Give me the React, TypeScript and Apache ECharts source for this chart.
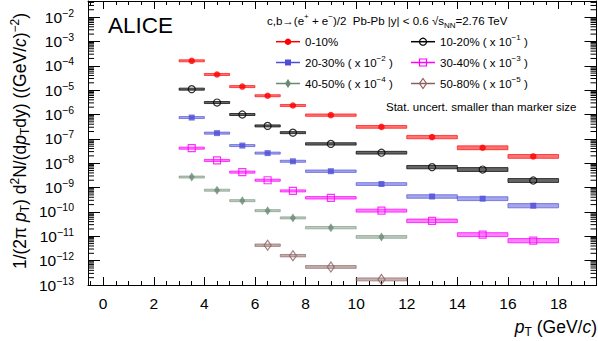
import React, { useEffect, useRef } from "react";
import * as echarts from "echarts";

// ---------- data ----------
const binLow = [3, 4, 5, 6, 7, 8, 10, 12, 14, 16];
const binHigh = [4, 5, 6, 7, 8, 10, 12, 14, 16, 18];
const binCenter = [3.5, 4.5, 5.5, 6.5, 7.5, 9, 11, 13, 15, 17];

const yield0to10 = [1.6e-4, 4.4e-5, 1.4e-5, 5.9e-6, 2.35e-6, 9.4e-7, 3.1e-7, 1.18e-7, 4.3e-8, 1.9e-8];
const yield10to20 = [1.1e-5, 3.1e-6, 1.0e-6, 3.4e-7, 1.8e-7, 6.2e-8, 2.7e-8, 6.9e-9, 5.5e-9, 1.95e-9];
const yield20to30 = [7.5e-7, 1.72e-7, 5.3e-8, 2.6e-8, 1.2e-8, 4.7e-9, 1.4e-9, 4.3e-10, 3.5e-10, 1.8e-10];
const yield30to40 = [4.15e-8, 1.3e-8, 4.3e-9, 2.0e-9, 7.3e-10, 3.8e-10, 1.13e-10, 4.3e-11, 1.17e-11, 6.6e-12];
const yield40to50 = [2.7e-9, 7.8e-10, 2.9e-10, 1.13e-10, 5.7e-11, 2.26e-11, 9.4e-12, null, null, null];
const yield50to80 = [null, null, null, 4.3e-12, 1.6e-12, 5.5e-13, 1.7e-13, null, null, null];

// relative systematic uncertainties (box half-heights)
const sys0to10 = [0.1, 0.1, 0.1, 0.1, 0.1, 0.12, 0.14, 0.17, 0.2, 0.2];
const sys10to20 = [0.1, 0.1, 0.1, 0.1, 0.1, 0.12, 0.14, 0.17, 0.2, 0.2];
const sys20to30 = [0.1, 0.1, 0.1, 0.1, 0.1, 0.12, 0.14, 0.18, 0.2, 0.22];
const sys30to40 = [0.1, 0.1, 0.1, 0.1, 0.1, 0.12, 0.15, 0.18, 0.2, 0.22];
const sys40to50 = [0.1, 0.1, 0.1, 0.1, 0.1, 0.12, 0.14, null, null, null];
const sys50to80 = [null, null, null, 0.12, 0.12, 0.14, 0.15, null, null, null];

const classNames = ["0-10%", "10-20%", "20-30%", "30-40%", "40-50%", "50-80%"];
const scaleExponents = ["", "−1", "−2", "−3", "−4", "−5"];

const xTickLabels = [0, 2, 4, 6, 8, 10, 12, 14, 16, 18];
const minorMultipliers = [2, 3, 4, 5, 6, 7, 8, 9];
const decadeExponents = [-13, -12, -11, -10, -9, -8, -7, -6, -5, -4, -3, -2];

// ---------- layout / style ----------
const FONT = '"Liberation Sans", Arial, Helvetica, sans-serif';
const X_MIN = -0.6;
const X_MAX = 19.5;
const Y_MIN = 1e-13;
const Y_MAX = Math.pow(10, -1.34);

type Style = {
  color: string;
  symbol: string;
  size: number | number[];
  hollow: boolean;
  boxFill: string;
  boxStroke: string;
};

const styles: Style[] = [
  { color: "#ff0000", symbol: "circle", size: 6.5, hollow: false, boxFill: "rgba(255,0,0,0.55)", boxStroke: "rgba(255,0,0,0.65)" },
  { color: "#000000", symbol: "circle", size: 7, hollow: true, boxFill: "rgba(0,0,0,0.6)", boxStroke: "rgba(0,0,0,0.7)" },
  { color: "#4d4dd8", symbol: "rect", size: 6, hollow: false, boxFill: "rgba(77,77,216,0.5)", boxStroke: "rgba(77,77,216,0.65)" },
  { color: "#ff00ff", symbol: "rect", size: 7, hollow: true, boxFill: "rgba(255,0,255,0.5)", boxStroke: "rgba(255,0,255,0.75)" },
  { color: "#6a8a72", symbol: "diamond", size: [6, 9], hollow: false, boxFill: "rgba(106,138,114,0.45)", boxStroke: "rgba(106,138,114,0.55)" },
  { color: "#8c5f5f", symbol: "diamond", size: [7, 10], hollow: true, boxFill: "rgba(140,95,95,0.5)", boxStroke: "rgba(140,95,95,0.65)" },
];

const yields = [yield0to10, yield10to20, yield20to30, yield30to40, yield40to50, yield50to80];
const sysList = [sys0to10, sys10to20, sys20to30, sys30to40, sys40to50, sys50to80];

function buildSeries() {
  const series: any[] = [];
  yields.forEach((vals, k) => {
    const st = styles[k];
    const sys = sysList[k];
    const boxData: number[][] = [];
    const pts: number[][] = [];
    vals.forEach((v, i) => {
      if (v == null) return;
      const s = sys[i] as number;
      boxData.push([binLow[i], binHigh[i], v / (1 + s), v * (1 + s)]);
      pts.push([binCenter[i], v]);
    });
    series.push({
      type: "custom",
      name: classNames[k] + "-sys",
      xAxisIndex: 0,
      yAxisIndex: 0,
      silent: true,
      z: 2,
      data: boxData,
      encode: { x: [0, 1], y: [2, 3] },
      renderItem: (_p: any, api: any) => {
        const a = api.coord([api.value(0), api.value(3)]);
        const b = api.coord([api.value(1), api.value(2)]);
        return {
          type: "rect",
          shape: { x: a[0], y: a[1], width: b[0] - a[0], height: b[1] - a[1] },
          style: { fill: st.boxFill, stroke: st.boxStroke, lineWidth: 1 },
        };
      },
    });
    series.push({
      type: "scatter",
      name: classNames[k],
      xAxisIndex: 0,
      yAxisIndex: 0,
      z: 3,
      symbol: st.symbol,
      symbolSize: st.size,
      data: pts,
      itemStyle: st.hollow
        ? { color: "rgba(255,255,255,0)", borderColor: st.color, borderWidth: 1.2 }
        : { color: st.color, borderWidth: 0 },
    });
  });

  // log minor ticks on left and right frame
  const minorVals: number[][] = [];
  decadeExponents.forEach((e) => {
    minorMultipliers.forEach((m) => {
      const v = m * Math.pow(10, e);
      if (v < Y_MAX && v > Y_MIN) minorVals.push([X_MIN, v]);
    });
  });
  series.push({
    type: "custom",
    silent: true,
    z: 5,
    xAxisIndex: 0,
    yAxisIndex: 0,
    data: minorVals,
    encode: { x: 0, y: 1 },
    renderItem: (_p: any, api: any) => {
      const v = api.value(1);
      const l = api.coord([X_MIN, v]);
      const r = api.coord([X_MAX, v]);
      return {
        type: "group",
        children: [
          { type: "line", shape: { x1: l[0], y1: l[1], x2: l[0] + 6, y2: l[1] }, style: { stroke: "#000", lineWidth: 1 } },
          { type: "line", shape: { x1: r[0], y1: r[1], x2: r[0] - 6, y2: r[1] }, style: { stroke: "#000", lineWidth: 1 } },
        ],
      };
    },
  });
  return series;
}

const supRich = {
  t: { fontSize: 11.5, lineHeight: 17, verticalAlign: "middle", fontFamily: FONT },
  sup: { fontSize: 8, lineHeight: 8, verticalAlign: "top", fontFamily: FONT },
  sub: { fontSize: 8, lineHeight: 8, verticalAlign: "bottom", fontFamily: FONT },
};

function legendMarker(k: number, cx: number, cy: number) {
  const st = styles[k];
  const fill = st.hollow ? "rgba(255,255,255,0)" : st.color;
  const stroke = st.hollow ? st.color : "none";
  const lw = st.hollow ? 1.2 : 0;
  if (st.symbol === "circle") {
    const r = (st.size as number) / 2;
    return { type: "circle", shape: { cx, cy, r }, style: { fill, stroke, lineWidth: lw }, z: 20 };
  }
  if (st.symbol === "rect") {
    const s = st.size as number;
    return { type: "rect", shape: { x: cx - s / 2, y: cy - s / 2, width: s, height: s }, style: { fill, stroke, lineWidth: lw }, z: 20 };
  }
  const [w, h] = st.size as number[];
  return {
    type: "polygon",
    shape: { points: [[cx, cy - h / 2], [cx + w / 2, cy], [cx, cy + h / 2], [cx - w / 2, cy]] },
    style: { fill, stroke, lineWidth: lw },
    z: 20,
  };
}

function buildGraphics() {
  const g: any[] = [];
  g.push({
    type: "text",
    x: 108,
    y: 25,
    style: { text: "ALICE", fontSize: 22.5, fontFamily: FONT, fill: "#000", align: "left", verticalAlign: "middle" },
  });
  g.push({
    type: "text",
    x: 267,
    y: 20.5,
    style: {
      text: "{t|c,b→(e}{sup|+}{t| + e}{sup|−}{t|)/2  Pb-Pb |y| < 0.6 √s}{sub|NN}{t|=2.76 TeV}",
      rich: supRich,
      fontSize: 11.5,
      fontFamily: FONT,
      fill: "#000",
      align: "left",
      verticalAlign: "middle",
    },
  });
  const rowsY = [41.7, 62.5, 83.5];
  const colsX = [276, 411];
  classNames.forEach((name, k) => {
    const row = Math.floor(k / 2);
    const col = k % 2;
    const x0 = colsX[col];
    const y0 = rowsY[row];
    g.push({ type: "line", shape: { x1: x0, y1: y0, x2: x0 + 24, y2: y0 }, style: { stroke: styles[k].color, lineWidth: 1.5 }, z: 19 });
    g.push(legendMarker(k, x0 + 12, y0));
    const txt = scaleExponents[k] ? `{t|${name} ( x 10}{sup|${scaleExponents[k]}}{t| )}` : `{t|${name}}`;
    g.push({
      type: "text",
      x: x0 + 29,
      y: y0,
      style: { text: txt, rich: supRich, fontSize: 11.5, fontFamily: FONT, fill: "#000", align: "left", verticalAlign: "middle" },
    });
  });
  g.push({
    type: "text",
    x: 386,
    y: 107,
    style: { text: "Stat. uncert. smaller than marker size", fontSize: 11.5, fontFamily: FONT, fill: "#000", align: "left", verticalAlign: "middle" },
  });
  // axis titles
  const titleRich = {
    n: { fontSize: 17.5, lineHeight: 22, verticalAlign: "middle", fontFamily: FONT },
    i: { fontSize: 17.5, lineHeight: 22, verticalAlign: "middle", fontStyle: "italic", fontFamily: FONT },
    sup: { fontSize: 12, lineHeight: 11, verticalAlign: "top", fontFamily: FONT },
    sub: { fontSize: 12, lineHeight: 11, verticalAlign: "bottom", fontFamily: FONT },
  };
  g.push({
    type: "text",
    x: 597,
    y: 327,
    style: {
      text: "{i|p}{sub|T}{n| (GeV/}{i|c}{n|)}",
      rich: titleRich,
      fill: "#000",
      align: "right",
      verticalAlign: "middle",
    },
  });
  g.push({
    type: "text",
    x: 20,
    y: 141,
    rotation: Math.PI / 2,
    style: {
      text: "{n|1/(2π }{i|p}{sub|T}{n|) d}{sup|2}{n|N/(d}{i|p}{sub|T}{n|dy) ((GeV/}{i|c}{n|)}{sup|−2}{n|)}",
      rich: titleRich,
      fill: "#000",
      align: "center",
      verticalAlign: "middle",
    },
  });
  return g;
}

function yLabel(v: number) {
  const l = Math.log10(v);
  const r = Math.round(l);
  if (Math.abs(l - r) > 1e-6) return "";
  return `{b|10}{s|${r < 0 ? "−" + Math.abs(r) : r}}`;
}

function xLabel(v: number) {
  const r = Math.round(v);
  if (Math.abs(v - r) > 1e-6 || !xTickLabels.includes(r)) return "";
  return String(r);
}

const axisLineStyle = { show: true, onZero: false, lineStyle: { color: "#000", width: 1 } };

function buildOption() {
  const xBase = {
    type: "value",
    min: X_MIN,
    max: X_MAX,
    splitNumber: 10,
    minInterval: 2,
    maxInterval: 2,
    axisLine: axisLineStyle,
    axisTick: { show: true, inside: true, length: 8, lineStyle: { color: "#000", width: 1 } },
    minorTick: { show: true, splitNumber: 4, length: 4, lineStyle: { color: "#000", width: 1 } },
    splitLine: { show: false },
    minorSplitLine: { show: false },
  };
  const yBase = {
    type: "log",
    logBase: 10,
    min: Y_MIN,
    max: Y_MAX,
    interval: 1,
    axisLine: axisLineStyle,
    axisTick: { show: true, inside: true, length: 12, lineStyle: { color: "#000", width: 1 } },
    splitLine: { show: false },
  };
  return {
    animation: false,
    backgroundColor: "#ffffff",
    textStyle: { fontFamily: FONT },
    grid: { left: 88, right: 1.5, top: 1, bottom: 56, containLabel: false, outerBoundsMode: "none" },
    xAxis: [
      {
        ...xBase,
        position: "bottom",
        axisLabel: { formatter: xLabel, fontSize: 15.5, color: "#000", margin: 10, fontFamily: FONT },
      },
      { ...xBase, position: "top", axisLabel: { show: false } },
    ],
    yAxis: [
      {
        ...yBase,
        position: "left",
        axisLabel: {
          formatter: yLabel,
          color: "#000",
          margin: 14,
          rich: {
            b: { fontSize: 15.5, lineHeight: 20, verticalAlign: "middle", fontFamily: FONT, color: "#000" },
            s: { fontSize: 10.5, lineHeight: 10, verticalAlign: "top", fontFamily: FONT, color: "#000" },
          },
        },
      },
      { ...yBase, position: "right", axisLabel: { show: false } },
    ],
    graphic: buildGraphics(),
    series: buildSeries(),
  };
}

export default function App() {
  const ref = useRef<HTMLDivElement>(null);
  useEffect(() => {
    if (!ref.current) return;
    const chart = echarts.init(ref.current, undefined, { renderer: "svg" });
    chart.setOption(buildOption() as any);
    return () => chart.dispose();
  }, []);
  return (
    <div
      ref={ref}
      style={{ position: "fixed", left: 0, top: 0, width: 598, height: 341, background: "#fff" }}
    />
  );
}
